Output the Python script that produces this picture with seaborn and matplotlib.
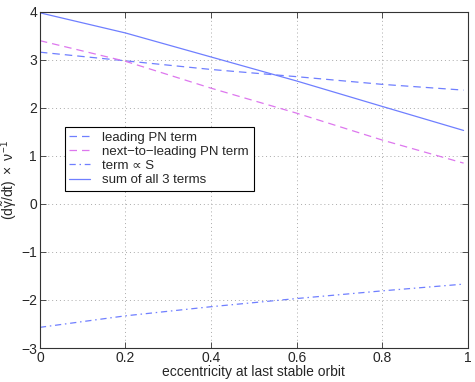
import pandas as pd
import matplotlib
matplotlib.use("Agg")
import matplotlib.pyplot as plt
import matplotlib.ticker as mticker
import seaborn as sns

# ── Data ──────────────────────────────────────────────────────────────────────

ECC = [0.0, 0.2, 0.4, 0.6, 0.8, 0.99]
LEADING = [3.16, 2.98, 2.80, 2.65, 2.49, 2.37]
NEXT_LEADING = [3.40, 2.97, 2.41, 1.89, 1.33, 0.85]
SPIN_TERM = [-2.57, -2.33, -2.14, -1.97, -1.81, -1.67]
SUM_TERMS = [3.98, 3.56, 3.06, 2.56, 2.03, 1.53]

LABELS = ["leading PN term", "next\u2212to\u2212leading PN term",
          "term \u221d S", "sum of all 3 terms"]
XTICKS = [0, 0.2, 0.4, 0.6, 0.8, 1]
YTICKS = [-3, -2, -1, 0, 1, 2, 3, 4]

# ── Style ─────────────────────────────────────────────────────────────────────

sns.set_theme(style="whitegrid")
plt.rcParams["font.family"] = ["Liberation Sans", "DejaVu Sans"]
plt.rcParams["mathtext.fontset"] = "custom"
plt.rcParams["mathtext.rm"] = "Liberation Sans"
plt.rcParams["mathtext.it"] = "Liberation Sans"
plt.rcParams["mathtext.sf"] = "Liberation Sans"
plt.rcParams["xtick.direction"] = "in"
plt.rcParams["ytick.direction"] = "in"

BLUE = "#6f7fff"
MAGENTA = "#dd77ee"

df = pd.concat([
    pd.DataFrame({"ecc": ECC, "val": vals, "term": lab})
    for vals, lab in zip([LEADING, NEXT_LEADING, SPIN_TERM, SUM_TERMS], LABELS)
])

palette = dict(zip(LABELS, [BLUE, MAGENTA, BLUE, BLUE]))
dashes = dict(zip(LABELS, [(6, 4), (6, 4), (5, 3, 1.2, 3), ""]))

fig = plt.figure(figsize=(4.75, 3.82), dpi=100)
ax = fig.add_axes([0.084, 0.089, 0.901, 0.88])

sns.lineplot(data=df, x="ecc", y="val", hue="term", style="term",
             palette=palette, dashes=dashes, linewidth=0.9, ax=ax,
             hue_order=LABELS, style_order=LABELS)

ax.set_xlim(0, 1)
ax.set_ylim(-3, 4)
ax.set_xticks(XTICKS)
ax.set_yticks(YTICKS)
ax.xaxis.set_major_formatter(mticker.FuncFormatter(lambda v, _: f"{v:g}"))
ax.yaxis.set_major_formatter(mticker.FuncFormatter(lambda v, _: f"{v:g}".replace("-", "\u2212")))
ax.tick_params(labelsize=10, length=4, width=0.6, color="#333333", pad=2,
               top=True, right=True, bottom=True, left=True)
ax.grid(True, color="#aaaaaa", linestyle=(0, (1, 3)), linewidth=0.7)
for sp in ax.spines.values():
    sp.set_color("#333333")
    sp.set_linewidth(0.8)
ax.set_facecolor("white")

ax.set_xlabel("eccentricity at last stable orbit", fontsize=10, labelpad=0)
ax.set_ylabel(r"$(\mathrm{d}\tilde{\gamma}/\mathrm{dt})\ \times\ \nu^{-1}$", fontsize=10)
ax.yaxis.set_label_coords(-0.046, 0.5)

handles, labels = ax.get_legend_handles_labels()
leg = ax.legend(handles, labels, loc="upper left", bbox_to_anchor=(0.058, 0.658),
                fontsize=9.5, frameon=True, fancybox=False, framealpha=1,
                edgecolor="black", handlelength=1.6, handletextpad=0.9,
                borderpad=0.35, labelspacing=0.15, borderaxespad=0)
leg.get_frame().set_linewidth(0.8)

fig.savefig("out.png", dpi=100)
